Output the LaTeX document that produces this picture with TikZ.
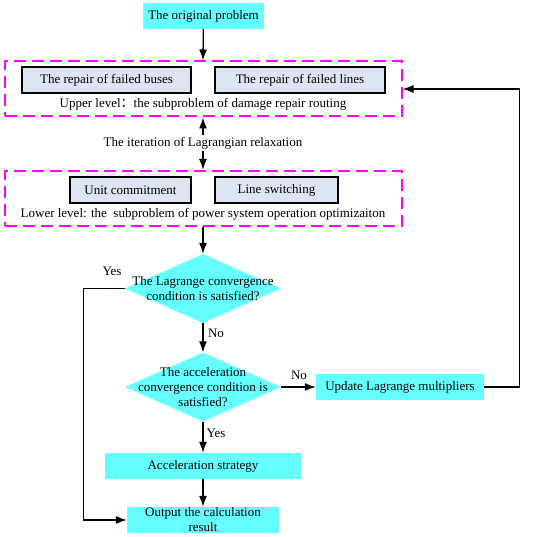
\documentclass[tikz,border=0pt]{standalone}
\usepackage{fontspec}
\setmainfont{Liberation Serif}
\newfontfamily\cjk{Noto Sans CJK SC}
\usetikzlibrary{shapes.geometric,arrows.meta}

\definecolor{aqua}{RGB}{102,255,255}
\definecolor{paleblue}{RGB}{220,230,242}
\definecolor{dashpink}{RGB}{255,0,255}

\begin{document}
\begin{tikzpicture}[x=1pt,y=-1pt,
        font=\fontsize{13}{15}\selectfont,
        flow/.style={draw,line width=1.3pt,-{Latex[length=11pt,width=8pt]}},
        cyanbox/.style={fill=aqua,minimum height=26pt,inner sep=0pt,align=center},
        subbox/.style={draw,line width=1.1pt,fill=paleblue,minimum height=26pt,inner sep=0pt},
        levelbox/.style={draw=dashpink,line width=2pt,dash pattern=on 12pt off 6pt,
            minimum width=397pt,minimum height=55pt,inner sep=0pt},
        decision/.style={diamond,fill=aqua,minimum width=156pt,minimum height=69pt,inner sep=0pt},
        remark/.style={inner sep=1pt}]
        \useasboundingbox (0,0) rectangle (550,537);
        % top of the chart
        \node[cyanbox,minimum width=121pt] (orig) at (203.5,16) {The original problem};
        \node[levelbox] (upper) at (203,89) {};
        \node[subbox,minimum width=169pt] (buses) at (106.5,80) {The repair of failed buses};
        \node[subbox,minimum width=170pt] (lines) at (300,80) {The repair of failed lines};
        \node[remark] (uppertxt) at (203,104) {Upper level{\cjk ：}the subproblem of damage repair routing};
        \node[remark,inner sep=2pt] (iter) at (203,143) {The iteration of Lagrangian relaxation};
        \node[levelbox] (lower) at (203,198.5) {};
        \node[subbox,minimum width=121pt] (unit) at (130.5,190) {Unit commitment};
        \node[subbox,minimum width=123pt] (switch) at (276.5,190) {Line switching};
        \node[remark] (lowertxt) at (203,214) {Lower level: the~~subproblem of power system operation optimizaiton};
        % decisions
        \node[decision] (conv) at (203,288.5) {};
        \node[align=center] (convtxt) at (conv.center) {The Lagrange convergence\\condition is satisfied?};
        \node[decision] (accel) at (203,387) {};
        \node[align=center] (acceltxt) at (accel.center) {The acceleration\\convergence condition is\\satisfied?};
        \node[cyanbox,minimum width=168pt] (update) at (400,387) {Update Lagrange multipliers};
        \node[cyanbox,minimum width=196pt] (strategy) at (203,466) {Acceleration strategy};
        \node[cyanbox,minimum width=152pt] (output) at (203,520) {Output the calculation\\result};
        % labels
        \node[remark] (yesa) at (112,271) {Yes};
        \node[remark] (noa) at (216,333) {No};
        \node[remark] (nob) at (299,375) {No};
        \node[remark] (yesb) at (216,433) {Yes};
        % connectors
        \draw[flow] (orig) -- (upper.north);
        \draw[flow] (iter.north) -- (upper.south);
        \draw[flow] (iter.south) -- (lower.north);
        \draw[flow] (lower.south) -- (conv.north);
        \draw[flow] (conv.south) -- (accel.north);
        \draw[flow] (accel.east) -- (update.west);
        \draw[flow] (accel.south) -- (strategy.north);
        \draw[flow] (strategy) -- (output);
        \draw[flow] (conv.west) -- ++(-41,0) |- (output.west);
        \draw[flow] (update.east) -- ++(35,0) |- (upper.east);
    \end{tikzpicture}
\end{document}
